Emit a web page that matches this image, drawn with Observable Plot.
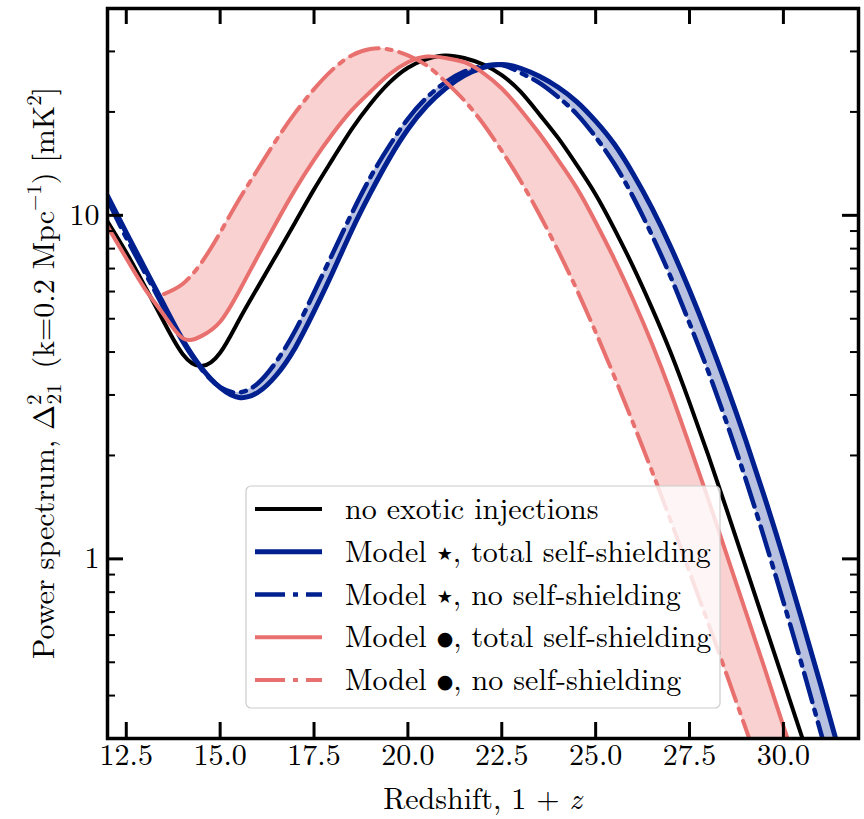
<!DOCTYPE html>
<html>
<head>
<meta charset="utf-8">
<script src="https://cdn.jsdelivr.net/npm/d3@7"></script>
<script src="https://cdn.jsdelivr.net/npm/@observablehq/plot@0.6"></script>
<style>
  body { margin: 0; background: #fff; }
  #chart { width: 864px; height: 819px; }
</style>
</head>
<body>
<div id="chart"></div>
<script>
// ---- data ----
const redshift = [12, 12.5, 13, 13.5, 14, 14.5, 15, 15.5, 16, 16.5, 17, 17.5, 18, 18.5, 19, 19.5, 20, 20.5, 21, 21.5,
                  22, 22.5, 23, 23.5, 24, 24.5, 25, 25.5, 26, 26.5, 27, 27.5, 28, 28.5, 29, 29.5, 30, 30.5, 31, 31.5];
const noExotic = [9.6, 7.8, 6.2, 4.9, 3.95, 3.64, 3.98, 4.95, 6.17, 7.67, 9.55, 11.9, 14.6, 17.8, 21.1, 24.3, 26.9, 28.5, 29.2, 28.7,
                  27.5, 25.6, 22.9, 19.7, 16.8, 14.0, 11.5, 9.12, 7.08, 5.37, 3.98, 2.85, 2.0, 1.38, 0.944, 0.646, 0.442, 0.302, 0.207, 0.141];
const starTotal = [11.4, 8.9, 7.0, 5.5, 4.35, 3.6, 3.15, 2.95, 3.05, 3.43, 4.12, 5.25, 6.84, 9.02, 11.6, 14.6, 17.8, 20.8, 23.4, 25.5,
                   26.9, 27.5, 26.8, 25.4, 23.6, 21.4, 18.8, 16.1, 13.2, 10.5, 8.09, 6.05, 4.42, 3.16, 2.21, 1.51, 1.01, 0.66, 0.427, 0.272];
const starNone = [11.1, 8.6, 6.8, 5.37, 4.29, 3.57, 3.16, 3.05, 3.24, 3.76, 4.62, 5.96, 7.76, 10.1, 12.9, 15.9, 19.1, 22.0, 24.4, 26.2,
                  27.2, 27.4, 26.0, 24.3, 22.1, 19.7, 16.9, 14.1, 11.3, 8.75, 6.61, 4.85, 3.51, 2.47, 1.7, 1.14, 0.75, 0.488, 0.311, 0.2];
const dotTotal = [9.29, 7.5, 6.1, 5.13, 4.39, 4.45, 4.9, 6.0, 7.59, 9.55, 11.9, 14.5, 17.3, 20.2, 22.9, 25.7, 27.9, 29.0, 28.7, 27.9,
                  26.0, 23.4, 20.3, 17.3, 14.5, 12.0, 9.55, 7.45, 5.68, 4.23, 3.05, 2.14, 1.49, 1.02, 0.70, 0.48, 0.326, 0.223, 0.151, 0.102];
const dotNone = [null, null, null, 5.9, 6.31, 7.28, 8.91, 11.1, 13.6, 16.6, 19.9, 23.3, 26.6, 29.2, 30.5, 30.4, 29.2, 27.3, 24.5, 21.6,
                 18.5, 15.4, 12.6, 10.07, 7.89, 6.07, 4.57, 3.39, 2.48, 1.8, 1.29, 0.916, 0.649, 0.457, 0.32, 0.224, 0.157, 0.11, 0.077, 0.054];

const xTicks = [12.5, 15.0, 17.5, 20.0, 22.5, 25.0, 27.5, 30.0];
const yMajorTicks = [1, 10];
const yMinorTicks = [0.3, 0.4, 0.5, 0.6, 0.7, 0.8, 0.9, 2, 3, 4, 5, 6, 7, 8, 9, 20, 30];

const legendLabels = [
  ["no exotic injections"],
  ["Model ", "★", ", total self-shielding"],
  ["Model ", "★", ", no self-shielding"],
  ["Model ", "●", ", total self-shielding"],
  ["Model ", "●", ", no self-shielding"]
];

// ---- styles ----
const W = 864, H = 819;
const mTop = 8, mRight = 6, mBottom = 81, mLeft = 107;
const innerW = W - mLeft - mRight;
const innerH = H - mTop - mBottom;
const navy = "#00208f";
const coral = "#e8706e";
const dashDot = "30,8,5,8";
const serif = "'Latin Modern Roman', 'Liberation Serif', serif";
const symFont = "'DejaVu Sans', sans-serif";
const curve = "natural";

const legendColors = ["#000", navy, navy, coral, coral];
const legendDash = [null, null, dashDot, null, dashDot];
const legendWidths = [4, 5, 4.5, 4, 4];

const rows = redshift.map((x, i) => ({
  x, noExotic: noExotic[i], starTotal: starTotal[i], starNone: starNone[i],
  dotTotal: dotTotal[i], dotNone: dotNone[i]
}));
const dotRows = rows.filter(d => d.dotNone != null);

const majorLen = 16, minorLen = 8;

const chart = Plot.plot({
  width: W, height: H,
  marginTop: mTop, marginRight: mRight, marginBottom: mBottom, marginLeft: mLeft,
  x: {domain: [12, 32]},
  y: {type: "log", domain: [0.3, 40]},
  style: `font-family: ${serif}; font-size: 30px; color: #000; background: #fff; overflow: visible;`,
  marks: [
    Plot.areaY(dotRows, {x: "x", y1: "dotTotal", y2: "dotNone", fill: coral, fillOpacity: 0.32, curve, clip: true}),
    Plot.areaY(rows, {x: "x", y1: "starTotal", y2: "starNone", fill: navy, fillOpacity: 0.28, curve, clip: true}),
    Plot.line(rows, {x: "x", y: "noExotic", stroke: "#000", strokeWidth: 4, curve, clip: true}),
    Plot.line(rows, {x: "x", y: "starTotal", stroke: navy, strokeWidth: 5, curve, clip: true}),
    Plot.line(rows, {x: "x", y: "starNone", stroke: navy, strokeWidth: 4.5, strokeDasharray: dashDot, curve, clip: true}),
    Plot.line(rows, {x: "x", y: "dotTotal", stroke: coral, strokeWidth: 4, curve, clip: true}),
    Plot.line(dotRows, {x: "x", y: "dotNone", stroke: coral, strokeWidth: 4, strokeDasharray: dashDot, curve, clip: true}),
    // inward ticks on all four sides
    Plot.tickX(xTicks, {x: d => d, insetTop: innerH - majorLen, stroke: "#000", strokeWidth: 3}),
    Plot.tickX(xTicks, {x: d => d, insetBottom: innerH - majorLen, stroke: "#000", strokeWidth: 3}),
    Plot.tickY(yMajorTicks, {y: d => d, insetRight: innerW - majorLen, stroke: "#000", strokeWidth: 3}),
    Plot.tickY(yMajorTicks, {y: d => d, insetLeft: innerW - majorLen, stroke: "#000", strokeWidth: 3}),
    Plot.tickY(yMinorTicks, {y: d => d, insetRight: innerW - minorLen, stroke: "#000", strokeWidth: 2}),
    Plot.tickY(yMinorTicks, {y: d => d, insetLeft: innerW - minorLen, stroke: "#000", strokeWidth: 2}),
    Plot.axisX(xTicks, {anchor: "bottom", tickSize: 0, tickPadding: 15, tickFormat: d3.format(".1f"), label: null, fontSize: 30}),
    Plot.axisY(yMajorTicks, {anchor: "left", tickSize: 0, tickPadding: 8, tickFormat: d => String(d), label: null, fontSize: 30}),
    Plot.frame({stroke: "#000", strokeWidth: 3.5})
  ]
});

const svg = d3.select(chart);

// x-axis label
const xl = svg.append("text")
  .attr("x", mLeft + innerW / 2).attr("y", 811)
  .attr("text-anchor", "middle").attr("font-size", 30).attr("fill", "#000");
xl.append("tspan").text("Redshift, 1 + ");
xl.append("tspan").attr("font-style", "italic").text("z");

// y-axis label
const yl = svg.append("text")
  .attr("transform", `translate(54,${mTop + innerH / 2}) rotate(-90)`)
  .attr("text-anchor", "middle").attr("font-size", 30).attr("fill", "#000");
yl.append("tspan").text("Power spectrum, Δ");
yl.append("tspan").attr("font-size", 21).attr("dy", -13).text("2");
yl.append("tspan").attr("font-size", 21).attr("dx", -10).attr("dy", 20).text("21");
yl.append("tspan").attr("dy", -7).text("\u00a0(k=0.2 Mpc");
yl.append("tspan").attr("font-size", 21).attr("dy", -13).text("−1");
yl.append("tspan").attr("dy", 13).text(") [mK");
yl.append("tspan").attr("font-size", 21).attr("dy", -13).text("2");
yl.append("tspan").attr("dy", 13).text("]");

// legend
const lg = svg.append("g");
lg.append("rect")
  .attr("x", 246).attr("y", 486).attr("width", 474).attr("height", 222).attr("rx", 5)
  .attr("fill", "rgba(255,255,255,0.8)").attr("stroke", "#cccccc").attr("stroke-width", 1.2);
legendLabels.forEach((lab, i) => {
  const yy = 509 + i * 42.75;
  lg.append("line")
    .attr("x1", 255).attr("x2", 322).attr("y1", yy).attr("y2", yy)
    .attr("stroke", legendColors[i]).attr("stroke-width", legendWidths[i])
    .attr("stroke-dasharray", legendDash[i]);
  const t = lg.append("text").attr("x", 345).attr("y", yy + 10)
    .attr("text-anchor", "start").attr("font-size", 30).attr("fill", "#000");
  t.append("tspan").text(lab[0]);
  if (lab.length > 1) {
    t.append("tspan").attr("class", "sym")
      .attr("font-size", lab[1] === "●" ? 19 : 18).attr("dy", -2).text(lab[1]);
    t.append("tspan").attr("dy", 2).text(lab[2]);
  }
});

// force fonts with inline styles
svg.selectAll("text").style("font-family", serif);
svg.selectAll("tspan.sym").style("font-family", symFont);

document.getElementById("chart").appendChild(chart);

// keep x tick labels and the x-axis title from overlapping / being cut off
(function fitBottomTexts() {
  const tickG = svg.select('g[aria-label="x-axis tick label"]');
  if (tickG.empty()) return;
  let tickBottom = -Infinity;
  tickG.selectAll("text").each(function () {
    const b = this.getBBox();
    const m = this.getCTM();
    tickBottom = Math.max(tickBottom, b.y + b.height + (m ? m.f : 0));
  });
  const lb = xl.node().getBBox();
  const limit = H - 1;
  let shiftLabel = 0;
  if (lb.y + lb.height > limit) shiftLabel = limit - (lb.y + lb.height);
  let top = lb.y + shiftLabel;
  if (top < tickBottom + 1) {
    const room = limit - (lb.y + lb.height + shiftLabel);
    const down = Math.min(room, tickBottom + 1 - top);
    shiftLabel += down;
    top += down;
    const up = tickBottom + 1 - top;
    if (up > 0) {
      const old = tickG.attr("transform") || "";
      tickG.attr("transform", `translate(0,${-up}) ${old}`);
    }
  }
  xl.attr("y", 811 + shiftLabel);
})();
</script>
</body>
</html>
